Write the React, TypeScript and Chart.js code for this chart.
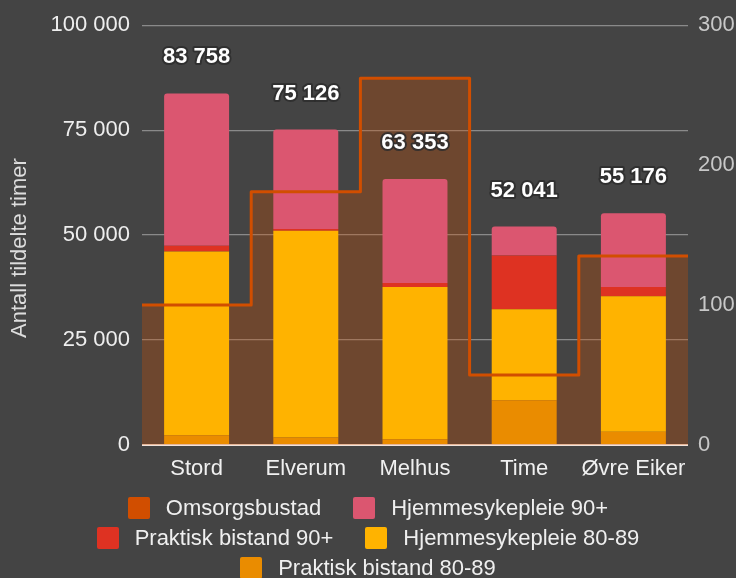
import React, { useEffect, useRef } from 'react';
import { Chart, registerables } from 'chart.js';

Chart.register(...registerables);

// ---- data ----
const categories = ['Stord', 'Elverum', 'Melhus', 'Time', 'Øvre Eiker'];
const praktisk8089 = [2300, 1800, 1350, 10640, 3150];
const hjemme8089 = [43800, 49260, 36310, 21680, 32310];
const praktisk90 = [1350, 400, 940, 12830, 2200];
const hjemme90 = [36308, 23666, 24753, 6891, 17516];
const totals = [83758, 75126, 63353, 52041, 55176];
const omsorgsbustad = [100, 181, 262, 50, 135];
const leftTicks = [0, 25000, 50000, 75000, 100000];
const rightTicks = [0, 100, 200, 300];
const yTitle = 'Antall tildelte timer';

const NAME_OMS = 'Omsorgsbustad';
const NAME_HS90 = 'Hjemmesykepleie 90+';
const NAME_PB90 = 'Praktisk bistand 90+';
const NAME_HS80 = 'Hjemmesykepleie 80-89';
const NAME_PB80 = 'Praktisk bistand 80-89';

const COL_OMS = '#D14E00';
const COL_OMS_FILL = 'rgba(209,78,0,0.3)';
const COL_HS90 = '#DB5670';
const COL_PB90 = '#DE3222';
const COL_HS80 = '#FFB300';
const COL_PB80 = '#EA8C00';

const FONT = '"Liberation Sans", Arial, sans-serif';

const legendItems = [
  { name: NAME_OMS, color: COL_OMS },
  { name: NAME_HS90, color: COL_HS90 },
  { name: NAME_PB90, color: COL_PB90 },
  { name: NAME_HS80, color: COL_HS80 },
  { name: NAME_PB80, color: COL_PB80 },
];

const fmt = (n: number) => String(n).replace(/\B(?=(\d{3})+(?!\d))/g, ' ');

const totalsPlugin = {
  id: 'totalsPlugin',
  afterDatasetsDraw(chart: any) {
    const ctx = chart.ctx;
    const meta = chart.getDatasetMeta(3);
    ctx.save();
    ctx.font = `bold 22px ${FONT}`;
    ctx.textAlign = 'center';
    ctx.textBaseline = 'middle';
    ctx.lineJoin = 'round';
    meta.data.forEach((el: any, i: number) => {
      const x = el.x;
      const y = el.y - 36;
      ctx.lineWidth = 4;
      ctx.strokeStyle = 'rgba(45,45,45,0.85)';
      ctx.strokeText(fmt(totals[i]), x, y);
      ctx.fillStyle = '#ffffff';
      ctx.fillText(fmt(totals[i]), x, y);
    });
    ctx.restore();
  },
};

const titlePlugin = {
  id: 'yTitlePlugin',
  afterDraw(chart: any) {
    const ctx = chart.ctx;
    const area = chart.chartArea;
    ctx.save();
    ctx.translate(20, (area.top + area.bottom) / 2 + 13);
    ctx.rotate(-Math.PI / 2);
    ctx.font = `22px ${FONT}`;
    ctx.fillStyle = '#dddddd';
    ctx.textAlign = 'center';
    ctx.textBaseline = 'middle';
    ctx.fillText(yTitle, 0, 0);
    ctx.restore();
  },
};

export default function App() {
  const ref = useRef<HTMLCanvasElement | null>(null);

  useEffect(() => {
    if (!ref.current) return;
    const linePoints = omsorgsbustad
      .map((v, i) => ({ x: i, y: v }))
      .concat([{ x: omsorgsbustad.length, y: omsorgsbustad[omsorgsbustad.length - 1] }]);

    const barCommon = {
      type: 'bar' as const,
      xAxisID: 'x',
      yAxisID: 'y',
      stack: 'main',
      grouped: false,
      barPercentage: 0.595,
      categoryPercentage: 1,
      borderRadius: 3,
      borderWidth: 0,
    };

    const chart = new Chart(ref.current, {
      type: 'bar',
      data: {
        labels: categories,
        datasets: [
          { ...barCommon, label: NAME_PB80, data: praktisk8089, backgroundColor: COL_PB80 },
          { ...barCommon, label: NAME_HS80, data: hjemme8089, backgroundColor: COL_HS80 },
          { ...barCommon, label: NAME_PB90, data: praktisk90, backgroundColor: COL_PB90 },
          { ...barCommon, label: NAME_HS90, data: hjemme90, backgroundColor: COL_HS90 },
          {
            type: 'line',
            label: NAME_OMS,
            xAxisID: 'x2',
            yAxisID: 'y2',
            data: linePoints as any,
            stepped: 'before',
            fill: 'origin',
            backgroundColor: COL_OMS_FILL,
            borderColor: COL_OMS,
            borderWidth: 3,
            borderJoinStyle: 'round',
            pointRadius: 0,
            order: -1,
          } as any,
        ],
      },
      options: {
        responsive: false,
        animation: false,
        layout: { padding: { top: 22, left: 0, right: 0, bottom: 0 } },
        plugins: {
          legend: { display: false },
          tooltip: { enabled: false },
          filler: { drawTime: 'beforeDatasetsDraw' } as any,
        },
        scales: {
          x: {
            type: 'category',
            stacked: true,
            offset: true,
            grid: { display: false },
            border: { display: false },
            ticks: {
              color: '#f0f0f0',
              font: { family: FONT, size: 22 },
              padding: 3,
              maxRotation: 0,
              autoSkip: false,
            },
            afterFit: (s: any) => {
              s.height = 133;
            },
          },
          x2: {
            type: 'linear',
            display: false,
            offset: false,
            min: 0,
            max: categories.length,
            grid: { offset: false },
          },
          y: {
            position: 'left',
            stacked: true,
            min: 0,
            max: 100000,
            grid: {
              color: (c: any) => (c.tick && c.tick.value === 0 ? '#f0e2da' : '#8a8a8a'),
              lineWidth: (c: any) => (c.tick && c.tick.value === 0 ? 2 : 1.3),
              drawTicks: false,
            },
            border: { display: false },
            ticks: {
              color: '#eeeeee',
              font: { family: FONT, size: 22 },
              padding: 12,
              callback: (v: any) => fmt(Number(v)),
            },
            afterBuildTicks: (s: any) => {
              s.ticks = leftTicks.map((v) => ({ value: v }));
            },
            afterFit: (s: any) => {
              s.width = 142;
            },
          },
          y2: {
            position: 'right',
            min: 0,
            max: 300,
            grid: { display: false, drawTicks: false },
            border: { display: false },
            ticks: {
              color: '#c8c8c8',
              font: { family: FONT, size: 22 },
              padding: 10,
            },
            afterBuildTicks: (s: any) => {
              s.ticks = rightTicks.map((v) => ({ value: v }));
            },
            afterFit: (s: any) => {
              s.width = 48;
            },
          },
        } as any,
      },
      plugins: [totalsPlugin, titlePlugin],
    });
    return () => chart.destroy();
  }, []);

  return (
    <div style={{ position: 'fixed', inset: 0, background: '#444444', overflow: 'hidden' }}>
      <div style={{ position: 'absolute', left: 0, top: 0, width: 736, height: 578 }}>
        <canvas ref={ref} width={736} height={578} style={{ width: 736, height: 578, display: 'block' }} />
        <div
          style={{
            position: 'absolute',
            left: 0,
            top: 493,
            width: 736,
            display: 'flex',
            justifyContent: 'center',
          }}
        >
          <div
            style={{
              width: 560,
              display: 'flex',
              flexWrap: 'wrap',
              justifyContent: 'center',
              columnGap: 32,
              rowGap: 0,
            }}
          >
            {legendItems.map((it) => (
              <div
                key={it.name}
                style={{ display: 'flex', alignItems: 'center', height: 30, whiteSpace: 'nowrap' }}
              >
                <span
                  style={{
                    display: 'inline-block',
                    width: 22,
                    height: 22,
                    borderRadius: 2,
                    background: it.color,
                    marginRight: 16,
                  }}
                />
                <span style={{ font: `22px ${FONT}`, color: '#efefef', lineHeight: '30px' }}>{it.name}</span>
              </div>
            ))}
          </div>
        </div>
      </div>
    </div>
  );
}
